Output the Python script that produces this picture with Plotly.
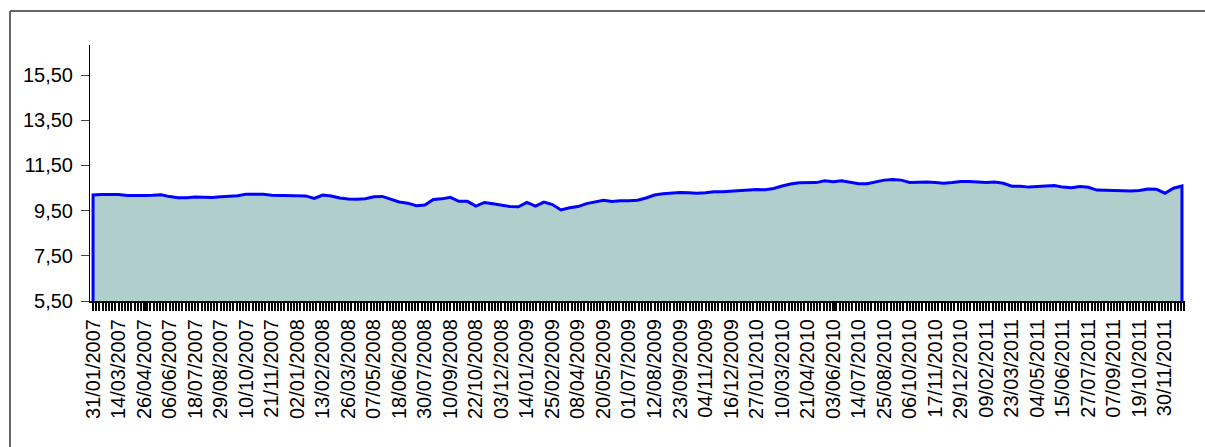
import plotly.graph_objects as go
import pandas as pd

# ---- data ----
dates = [
    "2007-01-31", "2007-02-14", "2007-02-28", "2007-03-14", "2007-03-28", "2007-04-11", "2007-04-25",
    "2007-05-09", "2007-05-23", "2007-06-06", "2007-06-20", "2007-07-04", "2007-07-18", "2007-08-01",
    "2007-08-15", "2007-08-29", "2007-09-12", "2007-09-26", "2007-10-10", "2007-10-24", "2007-11-07",
    "2007-11-21", "2007-12-05", "2007-12-19",
    "2008-01-02", "2008-01-16", "2008-01-30", "2008-02-13", "2008-02-27", "2008-03-12", "2008-03-26",
    "2008-04-09", "2008-04-23", "2008-05-07", "2008-05-21", "2008-06-04", "2008-06-18", "2008-07-02",
    "2008-07-16", "2008-07-30", "2008-08-13", "2008-08-27", "2008-09-10", "2008-09-24", "2008-10-08",
    "2008-10-22", "2008-11-05", "2008-11-19", "2008-12-03", "2008-12-17", "2008-12-31",
    "2009-01-14", "2009-01-28", "2009-02-11", "2009-02-25", "2009-03-11", "2009-03-25", "2009-04-08",
    "2009-04-22", "2009-05-06", "2009-05-20", "2009-06-03", "2009-06-17", "2009-07-01", "2009-07-15",
    "2009-07-29", "2009-08-12", "2009-08-26", "2009-09-09", "2009-09-23", "2009-10-07", "2009-10-21",
    "2009-11-04", "2009-11-18", "2009-12-02", "2009-12-16", "2009-12-30",
    "2010-01-13", "2010-01-27", "2010-02-10", "2010-02-24", "2010-03-10", "2010-03-24", "2010-04-07",
    "2010-04-21", "2010-05-05", "2010-05-19", "2010-06-02", "2010-06-16", "2010-06-30", "2010-07-14",
    "2010-07-28", "2010-08-11", "2010-08-25", "2010-09-08", "2010-09-22", "2010-10-06", "2010-10-20",
    "2010-11-03", "2010-11-17", "2010-12-01", "2010-12-15", "2010-12-29",
    "2011-01-12", "2011-01-26", "2011-02-09", "2011-02-23", "2011-03-09", "2011-03-23", "2011-04-06",
    "2011-04-20", "2011-05-04", "2011-05-18", "2011-06-01", "2011-06-15", "2011-06-29", "2011-07-13",
    "2011-07-27", "2011-08-10", "2011-08-24", "2011-09-07", "2011-09-21", "2011-10-05", "2011-10-19",
    "2011-11-02", "2011-11-16", "2011-11-30", "2011-12-14", "2011-12-28",
]

values = [
    10.19, 10.21, 10.22, 10.21, 10.17, 10.16, 10.17, 10.18, 10.20, 10.12,
    10.07, 10.07, 10.10, 10.09, 10.08, 10.11, 10.14, 10.16, 10.23, 10.24,
    10.22, 10.18, 10.17, 10.18, 10.16, 10.15, 10.04, 10.19, 10.15, 10.06,
    10.01, 10.00, 10.03, 10.11, 10.13, 10.02, 9.88, 9.83, 9.72, 9.75,
    9.99, 10.02, 10.09, 9.91, 9.91, 9.70, 9.86, 9.80, 9.75, 9.68,
    9.67, 9.86, 9.70, 9.88, 9.77, 9.53, 9.63, 9.68, 9.81, 9.90,
    9.96, 9.90, 9.94, 9.94, 9.96, 10.06, 10.19, 10.25, 10.28, 10.30,
    10.29, 10.27, 10.29, 10.34, 10.34, 10.36, 10.41, 10.43, 10.44, 10.42,
    10.48, 10.59, 10.68, 10.73, 10.74, 10.74, 10.82, 10.78, 10.82, 10.77,
    10.69, 10.69, 10.76, 10.85, 10.88, 10.85, 10.75, 10.77, 10.77, 10.74,
    10.71, 10.74, 10.79, 10.79, 10.77, 10.74, 10.77, 10.71, 10.58, 10.58,
    10.54, 10.57, 10.61, 10.61, 10.54, 10.51, 10.57, 10.53, 10.41, 10.40,
    10.37, 10.39, 10.37, 10.39, 10.46, 10.45, 10.27, 10.49, 10.59,
]

x_tick_labels = [
    "31/01/2007", "14/03/2007", "26/04/2007", "06/06/2007", "18/07/2007", "29/08/2007",
    "10/10/2007", "21/11/2007", "02/01/2008", "13/02/2008", "26/03/2008", "07/05/2008",
    "18/06/2008", "30/07/2008", "10/09/2008", "22/10/2008", "03/12/2008", "14/01/2009",
    "25/02/2009", "08/04/2009", "20/05/2009", "01/07/2009", "12/08/2009", "23/09/2009",
    "04/11/2009", "16/12/2009", "27/01/2010", "10/03/2010", "21/04/2010", "03/06/2010",
    "14/07/2010", "25/08/2010", "06/10/2010", "17/11/2010", "29/12/2010", "09/02/2011",
    "23/03/2011", "04/05/2011", "15/06/2011", "27/07/2011", "07/09/2011", "19/10/2011",
    "30/11/2011",
]

y_tick_values = [5.5, 7.5, 9.5, 11.5, 13.5, 15.5]

# ---- styling / layout ----
Y_MIN, Y_MAX = 5.5, 16.83
FONT = "Liberation Sans, Arial, sans-serif"

x_dt = pd.to_datetime(dates)
tickvals = [pd.to_datetime(t, format="%d/%m/%Y") for t in x_tick_labels]

# closed area polygon: baseline -> series -> baseline
x_poly = [x_dt[0]] + list(x_dt) + [x_dt[-1]]
y_poly = [Y_MIN] + values + [Y_MIN]

fig = go.Figure()
fig.add_trace(go.Scatter(
    x=x_poly, y=y_poly, mode="lines", fill="toself",
    fillcolor="#B0CECB",
    line=dict(color="#0000FF", width=3),
    hoverinfo="skip", showlegend=False,
))

pad = pd.Timedelta(days=5)
fig.update_xaxes(
    type="date",
    range=[x_dt[0] - pad, x_dt[-1] + pad],
    tickmode="array", tickvals=tickvals, ticktext=x_tick_labels,
    tickangle=-90,
    ticks="outside", ticklen=8, tickwidth=2, tickcolor="black",
    minor=dict(ticks="outside", ticklen=8, tickwidth=2, tickcolor="black",
               dtick=453600000, tick0=x_dt[0], showgrid=False),
    showline=True, linecolor="black", linewidth=2,
    showgrid=False, zeroline=False,
    tickfont=dict(family=FONT, size=20, color="black"),
)
fig.update_yaxes(
    range=[Y_MIN, Y_MAX],
    tickmode="array", tickvals=y_tick_values, tickformat=".2f",
    ticks="outside", ticklen=8, tickwidth=1, tickcolor="#444444",
    ticklabelstandoff=4,
    showline=True, linecolor="black", linewidth=1,
    showgrid=False, zeroline=False,
    tickfont=dict(family=FONT, size=20, color="black"),
)

# outer frame (top and left edges)
fx = (10 - 90) / 1095
fy = (301 - 11) / 256
fig.add_shape(type="line", xref="paper", yref="paper", x0=fx, x1=1.2, y0=fy, y1=fy,
              line=dict(color="#666666", width=2))
fig.add_shape(type="line", xref="paper", yref="paper", x0=fx, x1=fx, y0=fy, y1=-0.7,
              line=dict(color="#666666", width=2))

fig.update_layout(
    width=1205, height=447,
    margin=dict(l=90, r=20, t=45, b=146),
    paper_bgcolor="white", plot_bgcolor="white",
    separators=",.",
    showlegend=False,
)

fig.write_html("out.html",
               config={"displayModeBar": False},
               post_script="document.body.style.margin='0';document.body.style.overflow='hidden';")
